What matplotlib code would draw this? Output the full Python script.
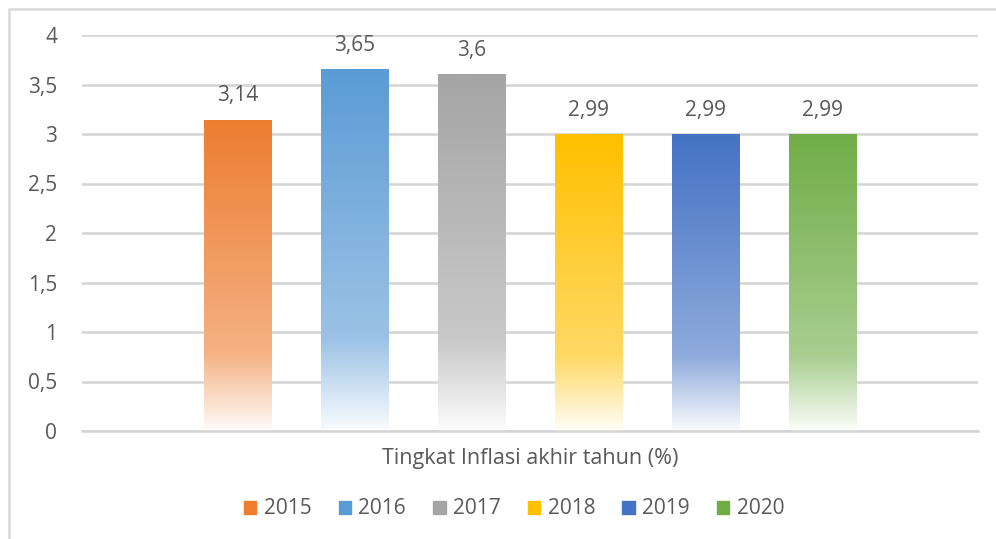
import matplotlib.pyplot as plt
import matplotlib.patches as mpatches
import numpy as np
from matplotlib.colors import to_rgb

years = ['2015', '2016', '2017', '2018', '2019', '2020']
inflasi = [3.14, 3.65, 3.6, 2.99, 2.99, 2.99]
warna = ['#ED7D31', '#5B9BD5', '#A5A5A5', '#FFC000', '#4472C4', '#70AD47']
kategori = 'Tingkat Inflasi akhir tahun (%)'
yticks = [0, 0.5, 1, 1.5, 2, 2.5, 3, 3.5, 4]

plt.rcParams['font.family'] = ['Open Sans', 'DejaVu Sans']
teks = '#595959'

fig = plt.figure(figsize=(9.96, 5.39), dpi=100)
ax = fig.add_axes([82 / 996, 1 - 431 / 539, 896 / 996, 396 / 539])

# frame around the whole chart
fig.patches.append(mpatches.Rectangle((9 / 996, -0.05), 1.2, 1 - 9 / 539 + 0.05,
                                      transform=fig.transFigure, fill=False,
                                      edgecolor='#D9D9D9', lw=1.8))


def gradient_img(color):
    # full colour at top, fading to almost white at the bottom
    c = np.array(to_rgb(color))
    t = np.linspace(0, 1, 200)
    a = np.where(t < 0.75, 1 - 0.4 * t / 0.75, 0.6 - 0.57 * (t - 0.75) / 0.25)
    img = a[:, None] * c[None, :] + (1 - a[:, None]) * np.ones(3)
    return img[:, None, :]


x = np.arange(len(years))
bars = ax.bar(x, inflasi, width=0.58, color='none', zorder=2)
for b, col, val in zip(bars, warna, inflasi):
    x0, w, h = b.get_x(), b.get_width(), b.get_height()
    ax.imshow(gradient_img(col), extent=[x0, x0 + w, 0, h], aspect='auto',
              zorder=2, interpolation='bilinear')
    ax.text(x0 + w / 2, h + 0.14, str(val).replace('.', ','), ha='center',
            va='bottom', fontsize=15, color=teks)

ax.set_xlim(-1.33, 6.33)
ax.set_ylim(0, 4)
ax.set_yticks(yticks)
ax.set_yticklabels([('%g' % v).replace('.', ',') for v in yticks],
                   fontsize=15, color=teks)
ax.set_xticks([])
ax.tick_params(axis='y', length=0, pad=18)
ax.grid(axis='y', color='#D4D4D4', lw=1.8, zorder=0)
ax.set_axisbelow(True)
for s in ['top', 'right', 'left']:
    ax.spines[s].set_visible(False)
ax.spines['bottom'].set_color('#D4D4D4')
ax.spines['bottom'].set_linewidth(1.8)

ax.set_xlabel(kategori, fontsize=15.5, color=teks, labelpad=12)

handles = [mpatches.Patch(color=c, label=y) for c, y in zip(warna, years)]
fig.legend(handles=handles, loc='center', bbox_to_anchor=(514 / 996, 1 - 509 / 539),
           ncol=6, frameon=False, fontsize=15, labelcolor=teks,
           handlelength=0.6, handleheight=0.6, handletextpad=0.35, columnspacing=1.3)

fig.savefig('out.png', dpi=100)
